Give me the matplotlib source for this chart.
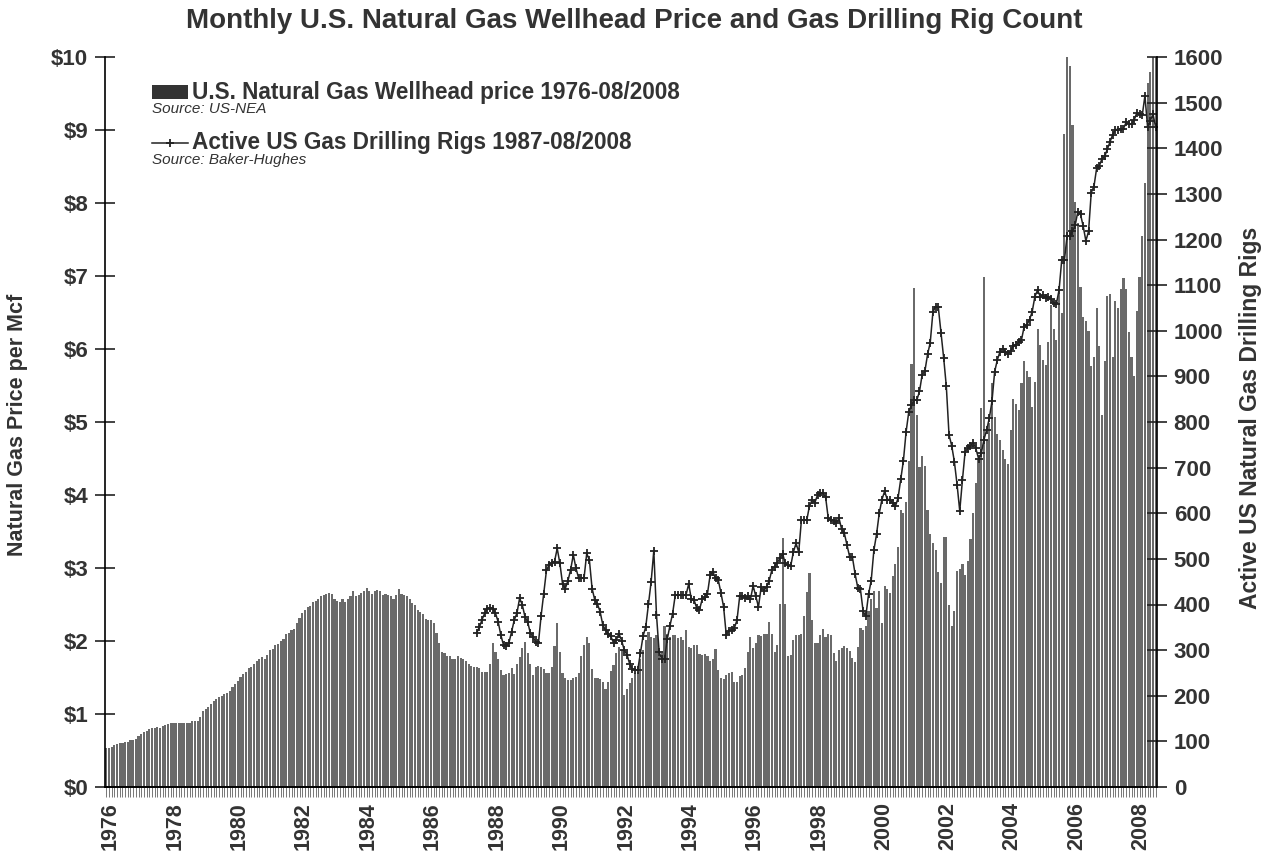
import matplotlib.pyplot as plt
import numpy as np
from matplotlib.lines import Line2D
from matplotlib.patches import Rectangle

plt.rcParams['font.family'] = ['Liberation Sans', 'DejaVu Sans']

W, H = 1268, 858
TXT = '#333333'

# monthly wellhead price, $/Mcf, Jan 1976 .. Aug 2008
price_1976_1983 = [
    0.54, 0.54, 0.55, 0.57, 0.59, 0.60, 0.60, 0.61, 0.62, 0.64, 0.65, 0.66,
    0.70, 0.73, 0.76, 0.77, 0.80, 0.81, 0.81, 0.82, 0.81, 0.83, 0.85, 0.86,
    0.87, 0.87, 0.88, 0.88, 0.88, 0.87, 0.88, 0.88, 0.90, 0.90, 0.90, 0.96,
    1.04, 1.07, 1.10, 1.14, 1.18, 1.20, 1.23, 1.25, 1.28, 1.29, 1.32, 1.37,
    1.41, 1.45, 1.51, 1.55, 1.58, 1.63, 1.65, 1.69, 1.72, 1.76, 1.78, 1.76,
    1.81, 1.88, 1.89, 1.95, 1.96, 2.00, 2.03, 2.09, 2.11, 2.15, 2.17, 2.24,
    2.31, 2.38, 2.43, 2.46, 2.48, 2.53, 2.55, 2.57, 2.61, 2.63, 2.64, 2.66,
    2.65, 2.58, 2.55, 2.54, 2.58, 2.54, 2.57, 2.62, 2.68, 2.61, 2.63, 2.66,
]
price_1984_1991 = [
    2.69, 2.72, 2.68, 2.64, 2.69, 2.70, 2.69, 2.63, 2.64, 2.63, 2.62, 2.58,
    2.63, 2.71, 2.64, 2.63, 2.61, 2.57, 2.52, 2.49, 2.43, 2.40, 2.37, 2.30,
    2.29, 2.29, 2.24, 2.11, 1.97, 1.85, 1.83, 1.80, 1.79, 1.76, 1.76, 1.79,
    1.77, 1.76, 1.72, 1.69, 1.66, 1.65, 1.65, 1.63, 1.58, 1.57, 1.58, 1.69,
    1.97, 1.85, 1.76, 1.60, 1.53, 1.55, 1.56, 1.63, 1.55, 1.69, 1.78, 1.90,
    1.99, 1.83, 1.69, 1.53, 1.65, 1.66, 1.65, 1.61, 1.56, 1.56, 1.65, 1.93,
    2.24, 1.85, 1.56, 1.49, 1.47, 1.47, 1.50, 1.51, 1.56, 1.79, 1.95, 2.05,
    1.97, 1.61, 1.50, 1.50, 1.48, 1.44, 1.34, 1.44, 1.59, 1.67, 1.83, 1.92,
]
price_1992_1999 = [
    1.88, 1.26, 1.34, 1.42, 1.50, 1.56, 1.58, 1.76, 1.88, 2.01, 2.13, 2.06,
    2.04, 2.08, 1.79, 1.83, 2.20, 2.10, 2.06, 2.08, 2.08, 2.04, 2.06, 2.02,
    2.15, 1.92, 1.91, 1.94, 1.95, 1.82, 1.81, 1.82, 1.79, 1.72, 1.76, 1.89,
    1.60, 1.49, 1.48, 1.54, 1.56, 1.58, 1.44, 1.44, 1.52, 1.54, 1.63, 1.85,
    2.05, 1.90, 1.97, 2.08, 2.07, 2.10, 2.09, 2.26, 2.10, 1.85, 1.94, 2.51,
    3.41, 2.51, 1.79, 1.81, 2.01, 2.08, 2.08, 2.10, 2.34, 2.67, 2.93, 2.29,
    1.97, 1.97, 2.08, 2.16, 2.05, 2.10, 2.08, 1.83, 1.72, 1.87, 1.91, 1.93,
    1.90, 1.86, 1.77, 1.71, 1.92, 2.18, 2.15, 2.20, 2.41, 2.57, 2.68, 2.45,
]
price_2000_2008 = [
    2.68, 2.25, 2.75, 2.71, 2.66, 2.89, 3.06, 3.29, 3.80, 3.75, 3.91, 4.47,
    5.79, 6.83, 5.09, 4.38, 4.54, 4.40, 3.80, 3.47, 3.34, 3.24, 2.94, 2.80,
    3.43, 3.43, 2.50, 2.20, 2.41, 2.96, 2.99, 3.05, 2.90, 3.10, 3.40, 3.75,
    4.16, 4.49, 5.19, 6.99, 4.75, 4.98, 5.53, 5.07, 4.84, 4.75, 4.62, 4.49,
    4.42, 4.89, 5.32, 5.25, 5.16, 5.53, 5.84, 5.70, 5.62, 5.21, 5.55, 6.28,
    6.05, 5.85, 5.78, 6.10, 6.60, 6.28, 6.13, 6.75, 6.49, 8.94, 10.0, 9.87,
    9.07, 8.01, 7.72, 6.85, 6.44, 6.39, 6.24, 5.77, 5.89, 6.56, 6.04, 5.10,
    5.83, 6.72, 6.75, 5.89, 6.66, 6.56, 6.82, 6.97, 6.82, 6.23, 5.89, 5.63,
    6.52, 6.99, 7.55, 8.28, 9.64, 9.80, 10.2, 10.2,
]

# active gas rigs, Jul 1987 .. Aug 2008
rigs_1987_1997 = [
    338, 350, 367, 381, 391, 393,
    391, 381, 362, 333, 311, 309, 316, 340, 366, 381, 414, 399,
    373, 362, 337, 329, 318, 315, 375, 424, 475, 487, 492, 494,
    523, 490, 445, 435, 452, 476, 509, 479, 458, 458, 458, 512,
    497, 435, 410, 401, 384, 355, 344, 336, 330, 316, 322, 336,
    321, 300, 290, 270, 258, 256, 256, 293, 331, 351, 401, 450,
    518, 377, 295, 280, 280, 324, 353, 380, 421, 421, 421, 421,
    421, 445, 411, 410, 392, 388, 411, 416, 424, 465, 472, 457,
    454, 426, 395, 333, 343, 344, 348, 366, 418, 419, 414, 418,
    411, 441, 418, 395, 438, 430, 439, 452, 476, 483, 492, 501,
    511, 490, 486, 484, 515, 534, 515, 585, 586, 585, 616, 629,
]
rigs_1998_2008 = [
    623, 640, 644, 645, 636, 589, 586, 584, 578, 589, 565, 556,
    530, 504, 504, 467, 437, 433, 385, 374, 422, 452, 519, 554,
    600, 630, 648, 630, 630, 622, 615, 633, 674, 715, 778, 822,
    837, 848, 848, 867, 904, 911, 948, 974, 1041, 1053, 1052, 996,
    941, 878, 772, 748, 713, 663, 605, 673, 735, 742, 748, 755,
    742, 720, 731, 761, 782, 808, 845, 910, 936, 954, 961, 954,
    950, 955, 967, 969, 975, 980, 1009, 1013, 1024, 1042, 1075, 1089,
    1075, 1078, 1072, 1073, 1070, 1061, 1059, 1089, 1155, 1155, 1208, 1208,
    1218, 1231, 1261, 1255, 1229, 1197, 1218, 1303, 1316, 1356, 1361, 1377,
    1382, 1398, 1414, 1430, 1441, 1441, 1443, 1443, 1457, 1453, 1453, 1462,
    1478, 1475, 1472, 1515, 1446, 1460, 1475, 1446,
]

year_labels = [str(y) for y in range(1976, 2009, 2)]
price_ticks = ['$%d' % v for v in range(0, 11)]
rig_ticks = [str(v) for v in range(0, 1601, 100)]

price = np.array(price_1976_1983 + price_1984_1991 + price_1992_1999 + price_2000_2008)
rigs = np.array(rigs_1987_1997 + rigs_1998_2008)
rig_start = (1987 - 1976) * 12 + 6   # July 1987
months = np.arange(len(price))


def fx(px):
    return px / W


def fy(py):
    return 1 - py / H


fig = plt.figure(figsize=(W / 100, H / 100), dpi=100)
ax = fig.add_axes([fx(105), fy(787), fx(1157 - 105), (787 - 57) / H])

ax.bar(months, price, width=0.8, color='#6a6a6a', linewidth=0)
ax.set_xlim(-0.5, len(price) - 0.5)
ax.set_ylim(0, 10)

ax.set_xticks(np.arange(0, len(price), 24) + 1.5)
ax.set_xticklabels(year_labels, rotation=90, fontsize=15.5, fontweight='bold', color=TXT)
ax.set_xticks(months, minor=True)
ax.tick_params(axis='x', which='major', length=0, pad=11)
ax.tick_params(axis='x', which='minor', direction='out', length=7, width=0.7, color='#777777')

ax.set_yticks(range(0, 11))
ax.set_yticklabels(price_ticks, fontsize=16, fontweight='bold', color=TXT)
ax.tick_params(axis='y', direction='inout', length=14, width=1.2, color='#222222', pad=5)

for s in ['top', 'right']:
    ax.spines[s].set_visible(False)
ax.spines['left'].set_linewidth(1.2)
ax.spines['bottom'].set_linewidth(1.4)

ax2 = ax.twinx()
ax2.plot(np.arange(rig_start, rig_start + len(rigs)), rigs, color='#222222', lw=1.1,
         marker='+', ms=5.5, mew=1.3)
ax2.set_ylim(0, 1600)
ax2.set_yticks(range(0, 1601, 100))
ax2.set_yticklabels(rig_ticks, fontsize=16, fontweight='bold', color=TXT)
ax2.tick_params(axis='y', direction='inout', length=14, width=1.2, color='#222222', pad=5)
for s in ['top', 'left', 'bottom']:
    ax2.spines[s].set_visible(False)
ax2.spines['right'].set_linewidth(1.2)

fig.text(fx(634), fy(21), 'Monthly U.S. Natural Gas Wellhead Price and Gas Drilling Rig Count',
         ha='center', va='center', fontsize=20, fontweight='bold', color=TXT)
fig.text(fx(18), fy(425), 'Natural Gas Price per Mcf', rotation=90, ha='center', va='center',
         fontsize=15.5, fontweight='bold', color=TXT)
fig.text(fx(1250), fy(418), 'Active US Natural Gas Drilling Rigs', rotation=90, ha='center',
         va='center', fontsize=16.5, fontweight='bold', color=TXT)

# legend block
fig.patches.append(Rectangle((fx(152), fy(99)), fx(36), 14 / H, transform=fig.transFigure,
                             facecolor='#333333', edgecolor='none'))
fig.text(fx(192), fy(92), 'U.S. Natural Gas Wellhead price 1976-08/2008', ha='left', va='center',
         fontsize=16.3, fontweight='bold', color=TXT)
fig.text(fx(152), fy(109), 'Source: US-NEA', ha='left', va='center', fontsize=11,
         style='italic', color=TXT)
fig.lines.append(Line2D([fx(152), fx(170), fx(188)], [fy(143)] * 3, transform=fig.transFigure,
                        color='#222222', lw=1.1, marker='+', ms=5.5, mew=1.3, markevery=[1]))
fig.text(fx(192), fy(143), 'Active US Gas Drilling Rigs 1987-08/2008', ha='left', va='center',
         fontsize=16.3, fontweight='bold', color=TXT)
fig.text(fx(152), fy(160), 'Source: Baker-Hughes', ha='left', va='center', fontsize=11,
         style='italic', color=TXT)

fig.savefig('out.png', dpi=100)
